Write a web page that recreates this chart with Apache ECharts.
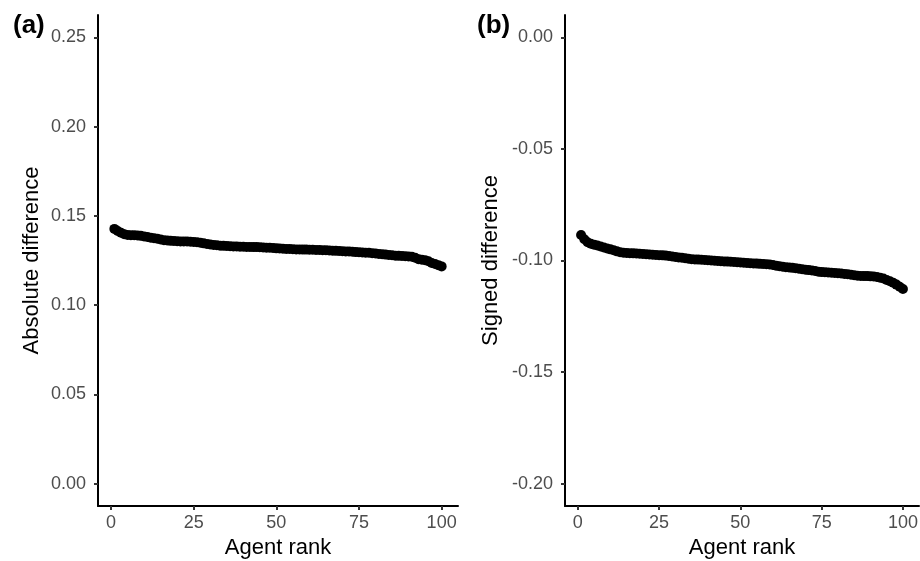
<!DOCTYPE html>
<html>
<head>
<meta charset="utf-8">
<script src="https://cdn.jsdelivr.net/npm/echarts@6/dist/echarts.min.js"></script>
<style>
  html, body { margin: 0; padding: 0; background: #fff; }
  #chart { width: 920px; height: 561px; }
</style>
</head>
<body>
<div id="chart"></div>
<script>
// agents sorted by rank 1..100
const absDiff = [
  0.1427, 0.1415, 0.1405, 0.1397, 0.1393, 0.1392, 0.1391, 0.1390, 0.1388, 0.1385,
  0.1382, 0.1378, 0.1375, 0.1372, 0.1368, 0.1364, 0.1362, 0.1360, 0.1359, 0.1358,
  0.1357, 0.1357, 0.1356, 0.1355, 0.1354, 0.1352, 0.1349, 0.1346, 0.1343, 0.1340,
  0.1337, 0.1335, 0.1333, 0.1332, 0.1331, 0.1330, 0.1329, 0.1328, 0.1327, 0.1327,
  0.1326, 0.1326, 0.1325, 0.1325, 0.1324, 0.1323, 0.1322, 0.1321, 0.1320, 0.1318,
  0.1317, 0.1316, 0.1315, 0.1314, 0.1313, 0.1312, 0.1312, 0.1311, 0.1311, 0.1310,
  0.1310, 0.1309, 0.1309, 0.1308, 0.1307, 0.1306, 0.1305, 0.1304, 0.1303, 0.1302,
  0.1301, 0.1300, 0.1299, 0.1297, 0.1296, 0.1295, 0.1294, 0.1293, 0.1291, 0.1289,
  0.1287, 0.1285, 0.1283, 0.1281, 0.1279, 0.1277, 0.1276, 0.1275, 0.1274, 0.1273,
  0.1271, 0.1265, 0.1257, 0.1254, 0.1252, 0.1246, 0.1236, 0.1230, 0.1224, 0.1217
]
const signedDiff = [
  -0.0886, -0.0905, -0.0918, -0.0925, -0.0929, -0.0933, -0.0937, -0.0942, -0.0946, -0.0950,
  -0.0954, -0.0959, -0.0963, -0.0965, -0.0966, -0.0967, -0.0968, -0.0969, -0.0970, -0.0971,
  -0.0972, -0.0973, -0.0974, -0.0975, -0.0976, -0.0977, -0.0978, -0.0980, -0.0982, -0.0984,
  -0.0986, -0.0988, -0.0990, -0.0992, -0.0994, -0.0995, -0.0996, -0.0997, -0.0998, -0.0999,
  -0.1000, -0.1001, -0.1002, -0.1003, -0.1004, -0.1005, -0.1006, -0.1007, -0.1008, -0.1009,
  -0.1010, -0.1011, -0.1012, -0.1013, -0.1014, -0.1015, -0.1016, -0.1017, -0.1018, -0.1020,
  -0.1023, -0.1026, -0.1028, -0.1030, -0.1031, -0.1033, -0.1035, -0.1037, -0.1039, -0.1041,
  -0.1043, -0.1045, -0.1047, -0.1050, -0.1052, -0.1053, -0.1054, -0.1055, -0.1056, -0.1057,
  -0.1058, -0.1060, -0.1062, -0.1064, -0.1066, -0.1068, -0.1069, -0.1070, -0.1070, -0.1071,
  -0.1072, -0.1074, -0.1077, -0.1081, -0.1087, -0.1093, -0.1100, -0.1108, -0.1118, -0.1128
]
const xTicks = [0, 25, 50, 75, 100]
const absTicks = [0, 0.05, 0.10, 0.15, 0.20, 0.25]
const signedTicks = [-0.20, -0.15, -0.10, -0.05, 0]

const FONT = 'Liberation Sans, Arial, sans-serif'

const toPoints = (vals) => vals.map((v, i) => [i + 1, v])

const xAxisFor = (gridIndex) => ({
  type: 'value',
  gridIndex,
  min: -3.95,
  max: 104.95,
  name: 'Agent rank',
  nameLocation: 'middle',
  nameGap: 30,
  nameTextStyle: { color: '#000', fontSize: 22, fontFamily: FONT },
  axisLine: { show: true, onZero: false, lineStyle: { color: '#000', width: 2 } },
  axisTick: { show: true, length: 4, customValues: xTicks, lineStyle: { color: '#333', width: 2 } },
  axisLabel: { customValues: xTicks, color: '#4d4d4d', fontSize: 18, fontFamily: FONT, margin: 8 },
  splitLine: { show: false }
})

const yAxisFor = (gridIndex, name, gap, min, max, ticks) => ({
  type: 'value',
  gridIndex,
  min,
  max,
  name,
  nameLocation: 'middle',
  nameGap: gap,
  nameTextStyle: { color: '#000', fontSize: 22, fontFamily: FONT },
  axisLine: { show: true, onZero: false, lineStyle: { color: '#000', width: 2 } },
  axisTick: { show: true, length: 4, customValues: ticks, lineStyle: { color: '#333', width: 2 } },
  axisLabel: {
    customValues: ticks,
    color: '#4d4d4d',
    fontSize: 18,
    fontFamily: FONT,
    margin: 12,
    formatter: (v) => v.toFixed(2)
  },
  splitLine: { show: false }
})

const chart = echarts.init(document.getElementById('chart'), null, { renderer: 'canvas' })
chart.setOption({
  backgroundColor: '#fff',
  animation: false,
  title: [
    { text: '(a)', left: 8, top: 8, textStyle: { fontSize: 26, fontWeight: 'bold', color: '#000', fontFamily: FONT } },
    { text: '(b)', left: 472, top: 8, textStyle: { fontSize: 26, fontWeight: 'bold', color: '#000', fontFamily: FONT } }
  ],
  grid: [
    { left: 98, right: 462, top: 15, bottom: 55, outerBoundsMode: 'none' },
    { left: 565, right: 1, top: 15, bottom: 55, outerBoundsMode: 'none' }
  ],
  xAxis: [xAxisFor(0), xAxisFor(1)],
  yAxis: [
    yAxisFor(0, 'Absolute difference', 55, -0.0125, 0.2625, absTicks),
    yAxisFor(1, 'Signed difference', 63, -0.21, 0.01, signedTicks)
  ],
  series: [
    {
      type: 'scatter',
      xAxisIndex: 0,
      yAxisIndex: 0,
      data: toPoints(absDiff),
      symbolSize: 10,
      itemStyle: { color: '#000', opacity: 1 }
    },
    {
      type: 'scatter',
      xAxisIndex: 1,
      yAxisIndex: 1,
      data: toPoints(signedDiff),
      symbolSize: 10,
      itemStyle: { color: '#000', opacity: 1 }
    }
  ]
})
</script>
</body>
</html>
